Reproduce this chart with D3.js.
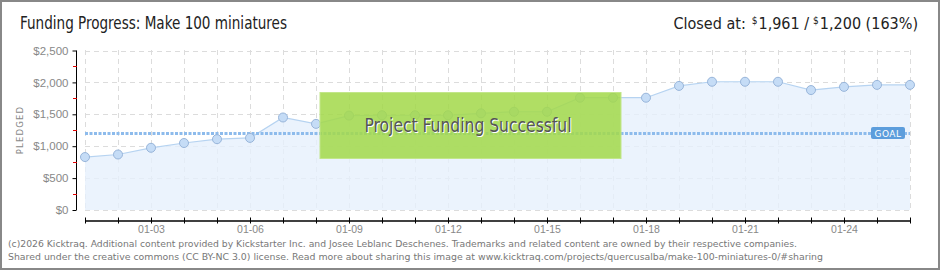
<!DOCTYPE html>
<html><head><meta charset="utf-8">
<script src="https://cdnjs.cloudflare.com/ajax/libs/d3/7.8.5/d3.min.js"></script>
<style>html,body{margin:0;padding:0;background:#fff;}svg{display:block;}</style>
</head><body>
<script>
const dates = ["01-01","01-02","01-03","01-04","01-05","01-06","01-07","01-08","01-09","01-10","01-11","01-12","01-13","01-14","01-15","01-16","01-17","01-18","01-19","01-20","01-21","01-22","01-23","01-24","01-25","01-26"];
const pledged = [830, 870, 975, 1050, 1110, 1130, 1450, 1350, 1480, 1485, 1485, 1485, 1515, 1540, 1540, 1760, 1760, 1760, 1945, 2010, 2010, 2010, 1880, 1930, 1961, 1961];
const goal = 1200;
const yTicks = [0, 500, 1000, 1500, 2000, 2500];
const yMinorTicks = [250, 750, 1250, 1750, 2250];
const xLabelDates = ["01-03","01-06","01-09","01-12","01-15","01-18","01-21","01-24"];
const titleText = "Funding Progress: Make 100 miniatures";
const closedParts = ["Closed at:", "$", "1,961 /", "$", "1,200 (163%)"];
const footerLines = [
 "(c)2026 Kicktraq. Additional content provided by Kickstarter Inc. and Josee Leblanc Deschenes. Trademarks and related content are owned by their respective companies.",
 "Shared under the creative commons (CC BY-NC 3.0) license. Read more about sharing this image at www.kicktraq.com/projects/quercusalba/make-100-miniatures-0/#sharing"
];

const W = 940, H = 270;
const svg = d3.select("body").append("svg").attr("width", W).attr("height", H);
const narrow = "'Liberation Sans Narrow','DejaVu Sans Condensed','Liberation Sans',sans-serif";

svg.append("rect").attr("x",1).attr("y",1).attr("width",W-2).attr("height",H-2)
  .attr("fill","#fff").attr("stroke","#888").attr("stroke-width",2);

const x = d3.scalePoint().domain(dates).range([85, 910]);
const y = d3.scaleLinear().domain([0, 2500]).range([210, 50.5]);

// grid
const grid = svg.append("g");
grid.selectAll("line.h").data(yTicks).join("line")
  .attr("x1",85).attr("x2",910).attr("y1",d=>Math.round(y(d))+0.5).attr("y2",d=>Math.round(y(d))+0.5)
  .attr("stroke","#dcdcdc").attr("stroke-dasharray","5,4");
grid.selectAll("line.v").data(dates).join("line")
  .attr("x1",d=>Math.round(x(d))+0.5).attr("x2",d=>Math.round(x(d))+0.5).attr("y1",50).attr("y2",210)
  .attr("stroke","#dcdcdc").attr("stroke-dasharray","5,4");

// area + line
const area = d3.area().x((d,i)=>x(dates[i])).y0(y(0)).y1(d=>y(d));
svg.append("path").datum(pledged).attr("d",area).attr("fill","#e6f0fc").attr("fill-opacity",0.8);
const line = d3.line().x((d,i)=>x(dates[i])).y(d=>y(d));
svg.append("path").datum(pledged).attr("d",line).attr("fill","none").attr("stroke","#b6d3f1").attr("stroke-width",1.2);

// goal line
const gy = Math.round(y(goal));
svg.append("line").attr("x1",85).attr("x2",910).attr("y1",gy+0.5).attr("y2",gy+0.5)
  .attr("stroke","#8dbbec").attr("stroke-width",3).attr("stroke-dasharray","3,1.5");

// points
svg.append("g").selectAll("circle").data(pledged).join("circle")
  .attr("cx",(d,i)=>x(dates[i])).attr("cy",d=>y(d)).attr("r",4.5)
  .attr("fill","#c5dcf6").attr("stroke","#98b5da").attr("stroke-width",1);

// goal label
svg.append("rect").attr("x",871).attr("y",gy-6).attr("width",34).attr("height",12).attr("rx",2)
  .attr("fill","#5c9ddc");
svg.append("text").attr("x",888).attr("y",gy+4).attr("text-anchor","middle")
  .attr("font-family","'DejaVu Sans',sans-serif").attr("font-size",9).attr("fill","#fff")
  .attr("letter-spacing",0.5).text("GOAL");

// y axis
const yAxisG = svg.append("g").attr("transform","translate(76.5,0)")
  .call(d3.axisLeft(y).tickValues(yTicks).tickSize(4).tickFormat(d=>"$"+d3.format(",")(d)));
yAxisG.select(".domain").attr("stroke","#000").attr("d","M0,50.5V210");
yAxisG.selectAll(".tick line").attr("stroke","#000");
yAxisG.selectAll(".tick text").attr("fill","#888").attr("font-size",11.5)
  .attr("font-family","'Liberation Sans',sans-serif").attr("x",-8);
svg.append("g").selectAll("line").data(yMinorTicks).join("line")
  .attr("x1",73).attr("x2",77).attr("y1",d=>Math.round(y(d))+0.5).attr("y2",d=>Math.round(y(d))+0.5)
  .attr("stroke","#e00000");
svg.append("text").attr("transform","translate(23,130) rotate(-90)").attr("text-anchor","middle")
  .attr("font-family","'DejaVu Sans',sans-serif").attr("font-size",8.5).attr("letter-spacing",1.2)
  .attr("fill","#888").text("PLEDGED");

// x axis
const xAxisG = svg.append("g").attr("transform","translate(0,220.5)")
  .call(d3.axisBottom(x).tickSizeInner(3).tickSizeOuter(0).tickFormat(d=>xLabelDates.includes(d)?d:""));
xAxisG.select(".domain").attr("stroke","#000").attr("stroke-width",1.3);
xAxisG.selectAll(".tick line").attr("stroke","#000").attr("y1",-3).attr("y2",3);
xAxisG.selectAll(".tick text").attr("fill","#888").attr("font-size",10.5)
  .attr("font-family","'Liberation Sans',sans-serif").attr("y",5);

// success box
svg.append("rect").attr("x",320).attr("y",92.5).attr("width",301).attr("height",66)
  .attr("fill","#a3d94a").attr("fill-opacity",0.86).attr("stroke","#c2e68a").attr("stroke-width",1);
svg.append("text").attr("x",469).attr("y",133).attr("text-anchor","middle")
  .attr("font-family",narrow).attr("font-size",20).attr("fill","#fff")
  .attr("textLength",207).attr("lengthAdjust","spacingAndGlyphs").text("Project Funding Successful");
svg.append("text").attr("x",468).attr("y",132).attr("text-anchor","middle")
  .attr("font-family",narrow).attr("font-size",20).attr("fill","#555")
  .attr("textLength",207).attr("lengthAdjust","spacingAndGlyphs").text("Project Funding Successful");

// title
svg.append("text").attr("x",20).attr("y",29).attr("font-family",narrow).attr("font-size",17)
  .attr("fill","#222").attr("textLength",267).attr("lengthAdjust","spacingAndGlyphs").text(titleText);

// closed-at text: parts laid out right-to-left from their measured widths
const partSize = [16, 10, 16, 10, 16];
const partDy = [0, -5, 0, -5, 0];
const partGap = [6, 1, 4, 1, 0];
const partNodes = svg.selectAll("text.closed").data(closedParts).join("text").attr("class","closed")
  .attr("y",(d,i)=>29+partDy[i]).attr("font-family",narrow)
  .attr("font-size",(d,i)=>partSize[i]).attr("fill","#222").text(d=>d).nodes();
let cursor = 918;
for (let i = partNodes.length - 1; i >= 0; i--) {
  const w = partNodes[i].getComputedTextLength();
  cursor -= w;
  d3.select(partNodes[i]).attr("x", cursor);
  if (i > 0) cursor -= partGap[i-1];
}

// footer
svg.selectAll("text.foot").data(footerLines).join("text").attr("class","foot")
  .attr("x",8).attr("y",(d,i)=>247+i*13).attr("font-family","'DejaVu Sans Condensed','Liberation Sans',sans-serif")
  .attr("font-size",9.5).attr("fill","#777")
  .attr("textLength",(d,i)=>i===0?789:815).attr("lengthAdjust","spacingAndGlyphs").text(d=>d);
</script>
</body></html>
